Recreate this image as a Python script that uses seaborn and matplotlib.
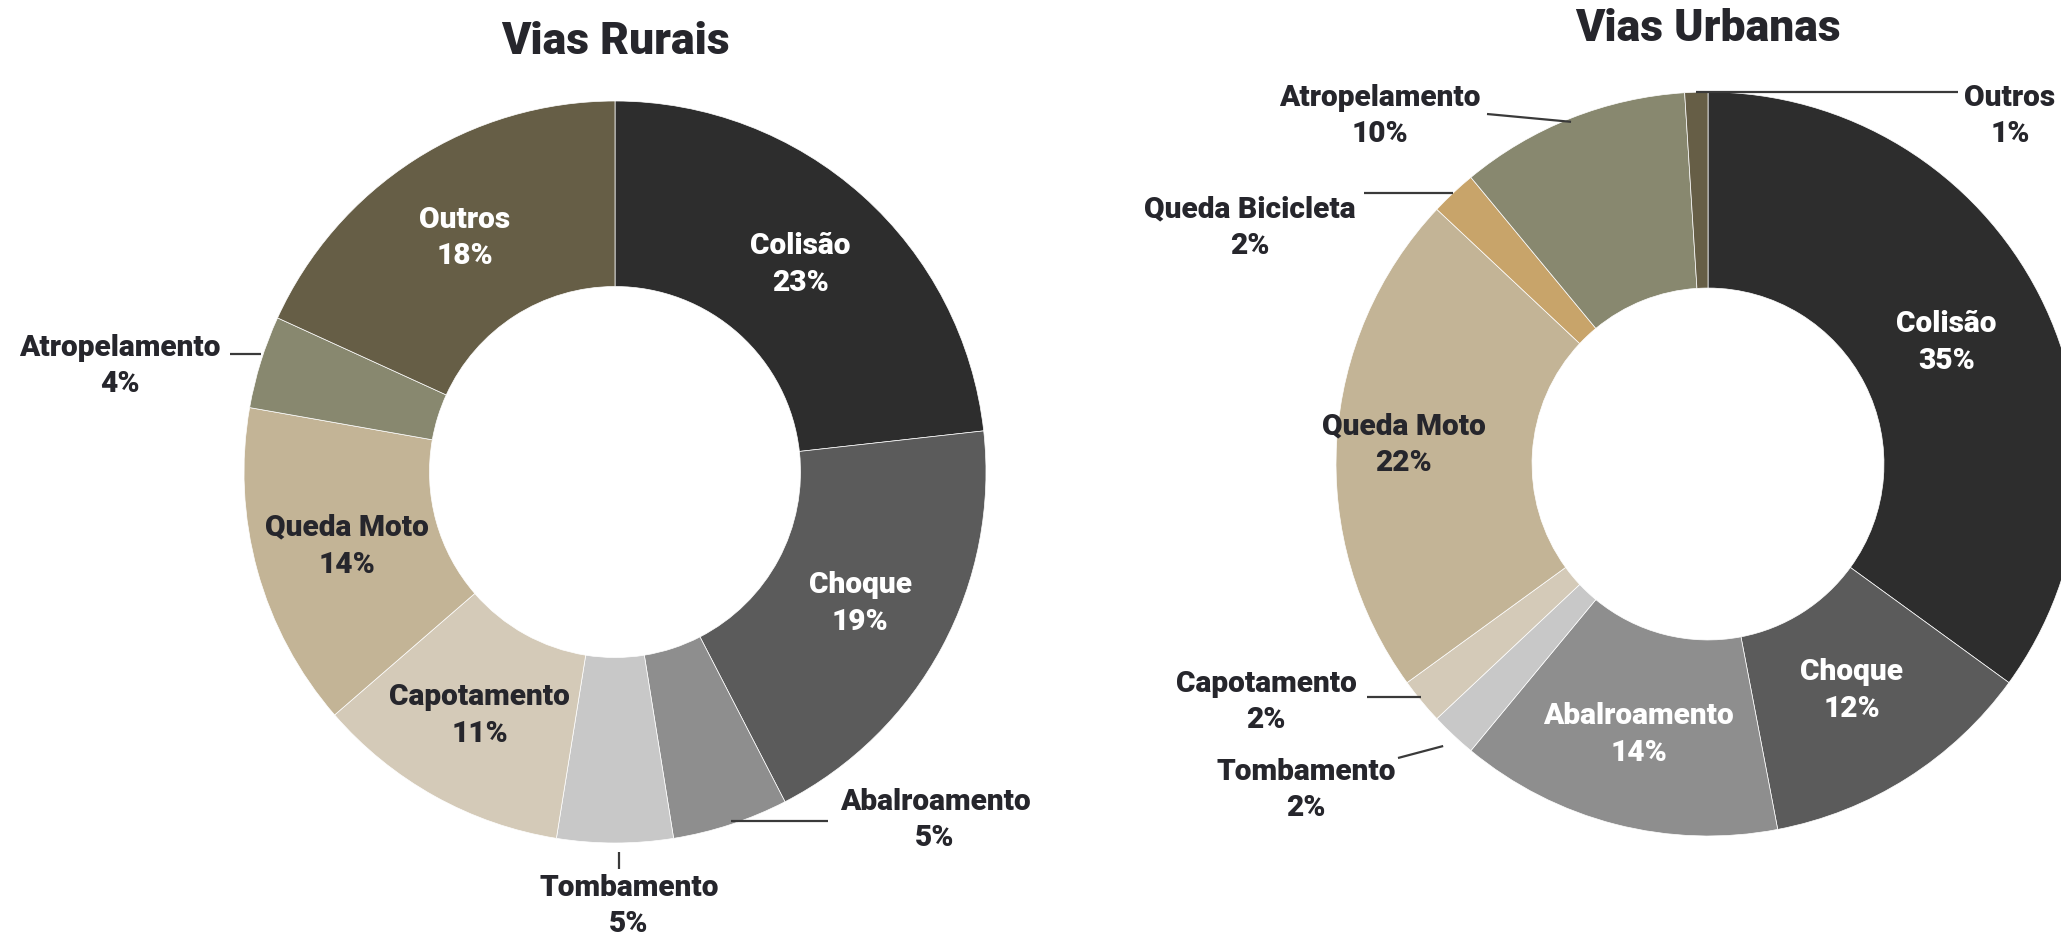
import numpy as np
import matplotlib
matplotlib.use("Agg")
import matplotlib.pyplot as plt
import seaborn as sns

# --- data -------------------------------------------------------------
rural_cats = ["Colisão", "Choque", "Abalroamento", "Tombamento",
              "Capotamento", "Queda Moto", "Atropelamento", "Outros"]
rural_vals = [23, 19, 5, 5, 11, 14, 4, 18]

urban_cats = ["Colisão", "Choque", "Abalroamento", "Tombamento",
              "Capotamento", "Queda Moto", "Queda Bicicleta",
              "Atropelamento", "Outros"]
urban_vals = [35, 12, 14, 2, 2, 22, 2, 10, 1]

titles = ["Vias Rurais", "Vias Urbanas"]

# --- style ------------------------------------------------------------
sns.set_theme(style="white")
plt.rcParams["font.family"] = ["Roboto", "DejaVu Sans"]
FS, TFS = 21.5, 32
WEIGHT = "black"

cat_colors = {
    "Colisão": "#2d2d2d",
    "Choque": "#5b5b5b",
    "Abalroamento": "#8e8e8e",
    "Tombamento": "#c8c8c8",
    "Capotamento": "#d4cab8",
    "Queda Moto": "#c3b496",
    "Queda Bicicleta": "#c8a46a",
    "Atropelamento": "#88886f",
    "Outros": "#665e46",
}
light_text = {"Colisão", "Choque", "Outros", "Abalroamento"}
DARK = "#26262c"

W, H = 2061, 938
fig = plt.figure(figsize=(W / 100, H / 100), dpi=100)


def donut_axes(cx, cy, r):
    """Square axes whose unit circle sits at pixel centre (cx, cy) with radius r."""
    return fig.add_axes([(cx - r) / W, (H - cy - r) / H, 2 * r / W, 2 * r / H])


def mid_angle(vals, i):
    total = sum(vals)
    before = sum(vals[:i])
    return np.deg2rad(90 - (before + vals[i] / 2) / total * 360)


def label(ax, x, y, name, val, color, ha="center"):
    ax.text(x, y, f"{name}\n{val}%", ha=ha, va="center", fontsize=FS,
            fontweight=WEIGHT, color=color, linespacing=1.4)


def draw_donut(ax, cats, vals, width, inside, outside, title, title_y):
    ax.pie(vals, colors=[cat_colors[c] for c in cats], startangle=90,
           counterclock=False, radius=1.0,
           wedgeprops=dict(width=width, edgecolor="white", linewidth=0.5))
    ax.set_xlim(-1, 1)
    ax.set_ylim(-1, 1)
    ax.set_aspect("equal")
    ax.axis("off")
    ax.text(0, title_y, title, ha="center", va="center", fontsize=TFS,
            fontweight=WEIGHT, color=DARK, clip_on=False)
    for i, c in enumerate(cats):
        a = mid_angle(vals, i)
        if c in inside:
            rr = inside[c]
            col = "white" if c in light_text else DARK
            label(ax, rr * np.cos(a), rr * np.sin(a), c, vals[i], col)
        else:
            tx, ty, path = outside[c]
            label(ax, tx, ty, c, vals[i], DARK)
            ex, ey = np.cos(a), np.sin(a)
            xs, ys = zip(*path(ex, ey))
            ax.plot(xs, ys, color="#3a3a3a", lw=1.6, clip_on=False,
                    solid_capstyle="butt")


# --- Vias Rurais ------------------------------------------------------
RCX, RCY, RR = 615, 472, 371
ax1 = donut_axes(RCX, RCY, RR)


def px(x):
    return (x - RCX) / RR


def py(y):
    return (RCY - y) / RR


rural_inside = {"Colisão": 0.75, "Choque": 0.75, "Capotamento": 0.75,
                "Queda Moto": 0.75, "Outros": 0.75}
rural_outside = {
    "Atropelamento": (px(120), py(366),
                      lambda ex, ey: [(ex, ey + 0.02), (px(230), ey + 0.02)]),
    "Abalroamento": (px(935), py(820),
                     lambda ex, ey: [(ex, ey + 0.01), (px(828), ey + 0.01)]),
    "Tombamento": (px(629), py(906),
                   lambda ex, ey: [(ex + 0.01, ey - 0.025), (ex + 0.01, ey - 0.07)]),
}
draw_donut(ax1, rural_cats, rural_vals, 0.5, rural_inside, rural_outside,
           titles[0], py(42))

# --- Vias Urbanas -----------------------------------------------------
UCX, UCY, UR = 1708, 464, 372
ax2 = donut_axes(UCX, UCY, UR)


def ux(x):
    return (x - UCX) / UR


def uy(y):
    return (UCY - y) / UR


urban_inside = {"Colisão": 0.72, "Choque": 0.72, "Abalroamento": 0.75,
                "Queda Moto": 0.82}
urban_outside = {
    "Outros": (ux(2010), uy(116),
               lambda ex, ey: [(ex, ey), (ux(1958), ey)]),
    "Atropelamento": (ux(1380), uy(116),
                      lambda ex, ey: [(ex, ey - 0.01), (ux(1487), uy(114))]),
    "Queda Bicicleta": (ux(1250), uy(228),
                        lambda ex, ey: [(ex, ey), (ux(1364), ey)]),
    "Capotamento": (ux(1266), uy(702),
                    lambda ex, ey: [(ex, ey + 0.01), (ux(1367), ey + 0.01)]),
    "Tombamento": (ux(1306), uy(790),
                   lambda ex, ey: [(ex * 1.04, ey * 1.04), (ux(1398), uy(758))]),
}
draw_donut(ax2, urban_cats, urban_vals, 0.527, urban_inside, urban_outside,
           titles[1], uy(29))

fig.savefig("out.png", dpi=100, facecolor="white")
